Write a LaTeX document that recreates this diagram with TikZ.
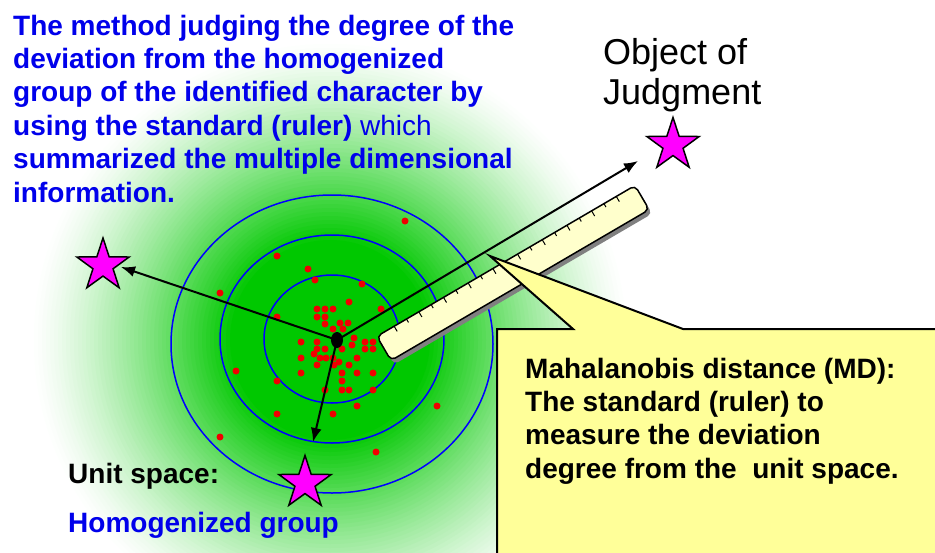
\documentclass[tikz,border=0pt]{standalone}
\usepackage{fontspec}
\setmainfont{Liberation Sans}
\usetikzlibrary{shapes.geometric,arrows.meta,calc}
\definecolor{mtblue}{RGB}{0,0,235}
\definecolor{ringblue}{RGB}{0,0,255}
\definecolor{coregreen}{RGB}{0,200,0}
\definecolor{dotred}{RGB}{240,0,0}
\definecolor{starpink}{RGB}{255,0,255}
\definecolor{noteyellow}{RGB}{255,255,153}
\definecolor{rulercream}{RGB}{255,255,204}
\begin{document}
\begin{tikzpicture}[x=1pt,y=-1pt,
  target/.style={star, star points=5, star point ratio=2.6, minimum size=55, inner sep=0, fill=starpink, draw=black, line width=1.5},
  ring/.style={draw=ringblue, line width=1.5},
  ray/.style={line width=2, -{Latex[length=14pt,width=11pt]}},
  hub/.style={ellipse, fill=black, minimum width=12, minimum height=16, inner sep=0},
  rulerbar/.style={rectangle, rounded corners=5, minimum width=299, minimum height=28, rotate=30.3, inner sep=0, outer sep=0},
  bigtext/.style={font=\fontsize{28}{33.4}\selectfont\bfseries, align=left, inner sep=0}]
  \useasboundingbox (0,0) rectangle (935,552);
  \clip (0,0) rectangle (935,552);
  \fill[white] (0,0) rectangle (935,552);
  \foreach \r in {300,296,...,104}{
    \pgfmathsetmacro{\p}{100*(1-(\r-100)/200)^1.3}
    \fill[coregreen!\p!white] (330,340) circle (\r);
  }
  \fill[coregreen] (330,340) circle (100);
  \draw[ring] (332,339) ellipse [x radius=68, y radius=64];
  \draw[ring] (332,339) ellipse [x radius=112, y radius=104];
  \draw[ring] (332,344) ellipse [x radius=161, y radius=149];
  \foreach \x/\y in {405/221, 277/256, 308/269, 220/293, 315/280, 362/284, 277/317, 349/302, 381/309,
      317/309, 325/309, 333/309, 317/317, 325/317, 325/324, 340/323, 348/323, 333/329, 343/329,
      354/338, 301/342, 317/342, 365/342, 373/342, 317/349, 325/349, 342/349, 352/345, 365/349,
      373/349, 314/354, 301/358, 320/358, 326/358, 333/358, 357/358, 339/362, 317/365, 334/365,
      349/365, 236/371, 301/373, 342/373, 357/373, 373/373, 277/381, 342/381, 325/390, 342/390,
      349/390, 373/390, 357/406, 437/406, 277/414, 333/414, 220/437, 376/452}
    \fill[dotred] (\x,\y) circle (3.5);
  \node[rulerbar, fill=gray] (rulershade) at (516,277) {};
  \node[rulerbar, fill=rulercream, draw=black, line width=1.5] (ruler) at (513,273) {};
  \foreach \i in {0,...,18}{
    \pgfmathsetmacro{\f}{0.067+0.0478*\i}
    \pgfmathsetmacro{\len}{mod(\i,2)==0 ? 6 : 4}
    \coordinate (ta) at ($(ruler.north west)!\f!(ruler.north east)$);
    \coordinate (tb) at ($(ruler.south west)!\f!(ruler.south east)$);
    \draw[line width=1] (ta) -- ($(ta)!\len pt!(tb)$);
  }
  \node[hub] (ctr) at (337,340) {};
  \coordinate (tipL) at (121,267);
  \coordinate (tipU) at (313,442);
  \coordinate (tipO) at (638,161);
  \draw[ray] (ctr.center) -- (tipL);
  \draw[ray] (ctr.center) -- (tipU);
  \draw[ray] (ctr.center) -- (tipO);
  \node[target] (starL) at (103,265.5) {};
  \node[target] (starU) at (305,483) {};
  \node[target] (starO) at (673,145) {};
  \filldraw[fill=noteyellow, draw=black, line width=2] (497,329) -- (573,329) -- (490,256) -- (683,329)
    -- (950,329) -- (950,570) -- (497,570) -- cycle;
  \node[bigtext, text=mtblue, anchor=north west] (method) at (13,14.6)
    {The method judging the degree of the\\deviation from the homogenized\\group of the identified character by\\using the standard (ruler) {\mdseries which}\\summarized the multiple dimensional\\information.};
  \node[bigtext, anchor=north west] (mdnote) at (525,357.6)
    {Mahalanobis distance (MD):\\The standard (ruler) to\\measure the deviation\\degree from the~ unit space.};
  \node[anchor=north west, inner sep=0, align=left, font=\fontsize{36}{40}\selectfont] (objlabel) at (603,38)
    {Object of\\Judgment};
  \node[bigtext, anchor=base west] (unitlabel) at (68,483) {Unit space:};
  \node[bigtext, text=mtblue, anchor=base west] (homlabel) at (68,532) {Homogenized group};
\end{tikzpicture}
\end{document}
